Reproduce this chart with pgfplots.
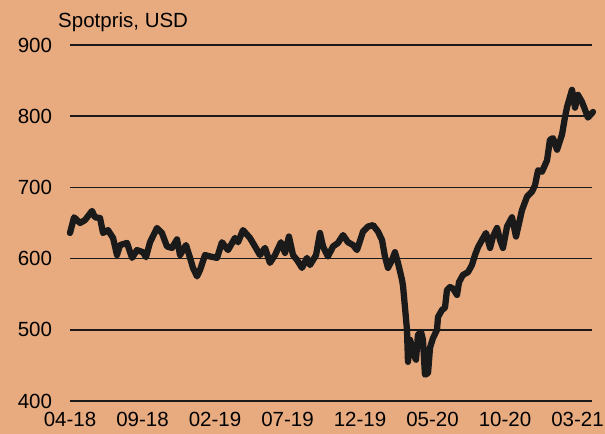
\documentclass[border=0pt]{standalone}
\usepackage{fontspec}
\setmainfont{Liberation Sans}
\usepackage{pgfplots}
\pgfplotsset{compat=1.18}
\definecolor{bg}{RGB}{232,171,128}
\definecolor{ln}{RGB}{26,26,26}
\begin{document}
\fontsize{20.5bp}{24bp}\selectfont
\begin{tikzpicture}
\useasboundingbox (0,0) rectangle (605bp,434bp);
\fill[bg] (0,0) rectangle (605bp,434bp);
\node[anchor=base west, inner sep=0pt] at (58bp,406bp) {Spotpris, USD};
\begin{axis}[
  at={(70bp,33bp)}, anchor=south west,
  scale only axis, width=522bp, height=356bp,
  xmin=0, xmax=36, ymin=400, ymax=900,
  axis line style={draw=none},
  major tick length=0pt,
  ytick={400,500,...,900},
  xtick={0,5,...,35},
  xticklabels={04-18,09-18,02-19,07-19,12-19,05-20,10-20,03-21},
  ymajorgrids,
  grid style={ln, line width=1.6bp},
  /pgf/number format/assume math mode=true,
  tick label style={font=\fontsize{20.5bp}{24bp}\selectfont},
  yticklabel style={xshift=-11bp},
  xticklabel style={yshift=-4bp},
  clip=false,
]
\addplot[ln, line width=6.3bp, line join=round, line cap=round] coordinates {
(0.00,636) (0.28,658) (0.69,650) (1.03,654) (1.52,667) (1.72,658) (2.07,657)
(2.28,636) (2.62,640) (2.97,629) (3.24,605) (3.45,619) (3.93,622) (4.28,601)
(4.62,612) (5.03,609) (5.24,602) (5.52,623) (6.00,643) (6.34,636) (6.69,617)
(7.03,615) (7.38,627) (7.59,605) (8.00,619) (8.28,601) (8.48,587) (8.76,575)
(8.97,584) (9.31,605) (9.66,603) (10.14,601) (10.48,623) (10.90,612) (11.38,629)
(11.59,623) (11.93,640) (12.41,629) (12.76,617) (13.10,605) (13.45,615) (13.79,594)
(14.14,605) (14.55,623) (14.83,608) (15.10,631) (15.38,605) (15.66,598) (16.00,587)
(16.34,601) (16.55,591) (16.97,605) (17.24,636) (17.45,617) (17.79,603) (18.14,617)
(18.48,622) (18.83,633) (19.17,623) (19.52,619) (19.79,612) (20.21,638) (20.55,645)
(20.90,647) (21.24,638) (21.52,626) (21.72,603) (21.93,587) (22.21,598) (22.41,609)
(22.62,594) (22.90,570) (22.97,561) (23.10,532) (23.24,500) (23.31,455) (23.45,486)
(23.59,476) (23.66,467) (23.86,458) (24.00,493) (24.21,497) (24.34,486) (24.48,437)
(24.69,439) (24.83,475) (25.03,488) (25.31,500) (25.38,518) (25.66,528) (25.86,531)
(26.00,556) (26.21,560) (26.41,558) (26.69,549) (26.83,567) (27.10,577) (27.45,581)
(27.72,591) (27.93,605) (28.14,616) (28.41,626) (28.69,636) (28.97,615) (29.17,631)
(29.45,643) (29.66,626) (29.86,615) (30.14,645) (30.48,658) (30.76,631) (31.17,668)
(31.52,687) (31.86,694) (32.07,703) (32.28,724) (32.55,722) (32.90,738) (33.10,767)
(33.31,769) (33.59,753) (33.93,774) (34.14,799) (34.28,813) (34.62,837) (34.83,812)
(35.03,830) (35.31,820) (35.52,809) (35.72,798) (36.07,806)
};
\end{axis}
\end{tikzpicture}
\end{document}
